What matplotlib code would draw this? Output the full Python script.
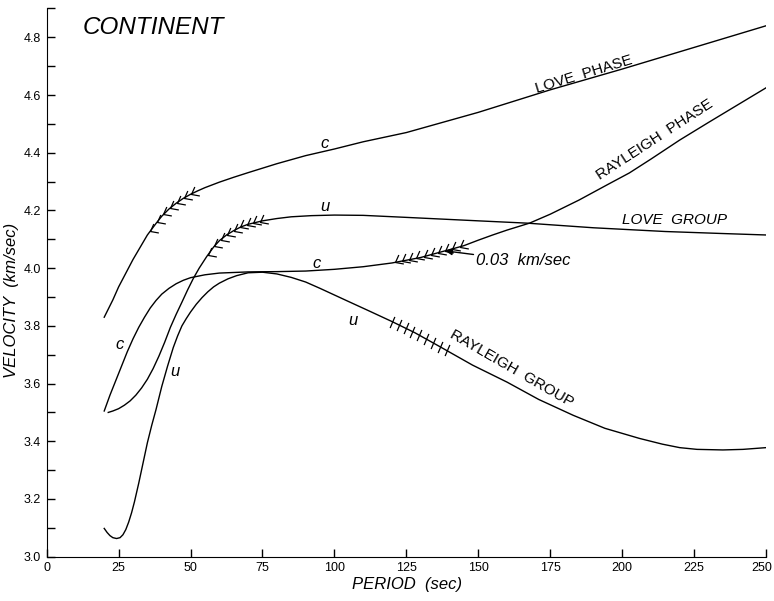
import numpy as np
import matplotlib.pyplot as plt
from matplotlib.path import Path
from matplotlib import font_manager
from matplotlib.transforms import ScaledTranslation

# шрифт: узкий, если он есть, иначе Liberation Sans
_names = {f.name for f in font_manager.fontManager.ttflist}
if 'Liberation Sans Narrow' in _names:
    FONT = ['Liberation Sans Narrow', 'DejaVu Sans']
else:
    FONT = ['Liberation Sans', 'DejaVu Sans']
plt.rcParams['font.family'] = FONT

# --- данные ---
love_phase_T = [20, 23, 25, 30, 35, 38, 40, 42.5, 45, 47.5, 50, 52.5, 55, 60, 65, 70, 80, 90, 100, 110, 125,
                150, 175, 200, 225, 250]
love_phase_v = [3.83, 3.89, 3.935, 4.03, 4.115, 4.155, 4.18, 4.205, 4.225, 4.242, 4.256, 4.268, 4.279, 4.298,
                4.315, 4.331, 4.362, 4.39, 4.413, 4.438, 4.47, 4.54, 4.618, 4.69, 4.765, 4.84]

love_group_T = [21.4, 23, 25, 27, 29, 31, 33, 35, 37, 39, 41, 43, 45, 47, 49, 51, 53, 55.6, 58, 60, 62.5, 65,
                67.5, 70, 75, 80, 85, 92, 100, 110, 125, 150, 167, 190, 215, 235, 250]
love_group_v = [3.50, 3.505, 3.513, 3.525, 3.54, 3.56, 3.585, 3.615, 3.652, 3.695, 3.743, 3.795, 3.84, 3.882,
                3.925, 3.965, 4.0, 4.04, 4.073, 4.095, 4.115, 4.13, 4.143, 4.152, 4.164, 4.172, 4.178,
                4.182, 4.184, 4.183, 4.176, 4.164, 4.156, 4.14, 4.127, 4.12, 4.115]

rayl_phase_T = [20, 22, 24, 26, 28, 30, 32, 34, 36, 38, 40, 42.5, 45, 47.5, 50, 55, 60, 70, 80, 90, 100, 110,
                120, 130, 137.7, 140, 145, 150, 155, 160, 167.8, 175, 185, 195, 202.5, 210, 220, 230, 240, 250]
rayl_phase_v = [3.505, 3.56, 3.61, 3.66, 3.71, 3.755, 3.795, 3.83, 3.862, 3.888, 3.91, 3.93, 3.946, 3.958,
                3.967, 3.977, 3.983, 3.987, 3.988, 3.99, 3.996, 4.005, 4.018, 4.037, 4.058, 4.064, 4.078,
                4.097, 4.115, 4.132, 4.156, 4.187, 4.236, 4.29, 4.33, 4.378, 4.444, 4.505, 4.565, 4.625]

rayl_group_T = [20, 21, 22, 23, 24.3, 25.5, 26.5, 27.5, 28.5, 29.5, 30.5, 32, 33.5, 35, 36.5, 38, 40, 42, 44,
                45.5, 47, 48.5, 50, 52, 54, 56, 58, 60, 63, 66, 70, 75, 80, 85, 90, 95, 100, 105, 112, 120,
                128, 137, 148, 160, 171, 183, 194, 206, 214, 220, 226, 235, 242, 250]
rayl_group_v = [3.098, 3.084, 3.073, 3.066, 3.063, 3.066, 3.076, 3.094, 3.12, 3.152, 3.19, 3.255, 3.325, 3.395,
                3.455, 3.51, 3.59, 3.66, 3.725, 3.765, 3.80, 3.825, 3.848, 3.875, 3.898, 3.918, 3.935, 3.948,
                3.963, 3.974, 3.984, 3.986, 3.98, 3.968, 3.952, 3.93, 3.907, 3.884, 3.852, 3.815, 3.776,
                3.726, 3.664, 3.605, 3.545, 3.49, 3.445, 3.41, 3.39, 3.378, 3.372, 3.37, 3.372, 3.378]

# положения штрихов (ошибка 0.03 km/sec)
love_phase_hatch = [36, 38.3, 40.6, 43, 45.3, 47.6, 50]
love_group_hatch = [56, 58.2, 60.5, 62.7, 65, 67.2, 69.5, 71.7, 74]
rayl_phase_hatch = [121, 123.5, 126, 128.5, 131, 133.5, 136, 138.5, 141, 143.5]
rayl_group_hatch = [120, 122.4, 124.8, 127.1, 129.5, 131.9, 134.2, 136.6, 139]

period_ticks = [0, 25, 50, 75, 100, 125, 150, 175, 200, 225, 250]
vel_ticks = [3.0, 3.2, 3.4, 3.6, 3.8, 4.0, 4.2, 4.4, 4.6, 4.8]

# маркеры-штрихи: "перо" и косая черта
feather = Path([(0.4, 0.9), (0, 0), (1.0, -0.18)], [Path.MOVETO, Path.LINETO, Path.LINETO])
slash = Path([(-0.3, -0.7), (0.3, 0.7)], [Path.MOVETO, Path.LINETO])

fig = plt.figure(figsize=(7.74, 6.01), dpi=100)
ax = fig.add_axes([0.0603, 0.0737, 0.9294, 0.9122])

lw = 1.0
ax.plot(love_phase_T, love_phase_v, color='black', lw=lw)
ax.plot(love_group_T, love_group_v, color='black', lw=lw)
ax.plot(rayl_phase_T, rayl_phase_v, color='black', lw=lw)
ax.plot(rayl_group_T, rayl_group_v, color='black', lw=lw)

for hx, (cT, cv) in [(love_phase_hatch, (love_phase_T, love_phase_v)),
                     (love_group_hatch, (love_group_T, love_group_v)),
                     (rayl_phase_hatch, (rayl_phase_T, rayl_phase_v))]:
    ax.plot(hx, np.interp(hx, cT, cv), ls='none', marker=feather, ms=12,
            mfc='none', mec='black', mew=0.9)
ax.plot(rayl_group_hatch, np.interp(rayl_group_hatch, rayl_group_T, rayl_group_v), ls='none',
        marker=slash, ms=8, mfc='none', mec='black', mew=0.9)

ax.set_xlim(0, 250)
ax.set_ylim(3.0, 4.9)
ax.set_xticks(period_ticks)
ax.set_yticks(vel_ticks)
ax.set_yticks(np.arange(3.1, 4.95, 0.2), minor=True)
ax.set_yticklabels([f'{v:.1f}' for v in vel_ticks])
ax.spines['top'].set_visible(False)
ax.spines['right'].set_visible(False)
ax.spines['left'].set_bounds(3.0, 4.9)
ax.tick_params(axis='both', which='both', direction='in', length=6, width=1.0, labelsize=9)
ax.tick_params(axis='x', pad=4)
ax.tick_params(axis='y', pad=4)
# последняя подпись "250" чуть левее, чтобы не обрезалась
last = ax.get_xticklabels()[-1]
last.set_transform(last.get_transform() + ScaledTranslation(-3 / 72, 0, fig.dpi_scale_trans))

it = dict(family=FONT, style='italic', color='black')
ax.text(12.6, 4.833, 'CONTINENT', fontsize=17.5, va='center', ha='left', **it)

ax.text(186.6, 4.672, 'LOVE  PHASE', fontsize=11, rotation=17, ha='center', va='center', family=FONT)
ax.text(211.2, 4.447, 'RAYLEIGH  PHASE', fontsize=11, rotation=33, ha='center', va='center', family=FONT)
ax.text(218.2, 4.167, 'LOVE  GROUP', fontsize=11, ha='center', va='center', **it)
ax.text(161.5, 3.652, 'RAYLEIGH  GROUP', fontsize=11, rotation=-30, ha='center', va='center', family=FONT)

ax.text(96.7, 4.433, 'c', fontsize=12, ha='center', va='center', **it)
ax.text(96.7, 4.213, 'u', fontsize=12, ha='center', va='center', **it)
ax.text(93.8, 4.017, 'c', fontsize=12, ha='center', va='center', **it)
ax.text(25.4, 3.734, 'c', fontsize=12, ha='center', va='center', **it)
ax.text(44.5, 3.641, 'u', fontsize=12, ha='center', va='center', **it)
ax.text(106.5, 3.82, 'u', fontsize=12, ha='center', va='center', **it)

ax.annotate('0.03  km/sec', xy=(138.5, 4.06), xytext=(149.3, 4.025), fontsize=12, va='center', ha='left',
            arrowprops=dict(arrowstyle='-|>', color='black', lw=1.0, shrinkA=0, shrinkB=0,
                            mutation_scale=10), **it)

fig.text(407 / 774, 1 - 584 / 601, 'PERIOD  (sec)', fontsize=12, ha='center', va='center', **it)
fig.text(12 / 774, 1 - 300 / 601, 'VELOCITY  (km/sec)', fontsize=12, rotation=90,
         ha='center', va='center', **it)

fig.savefig('out.png', dpi=100)
